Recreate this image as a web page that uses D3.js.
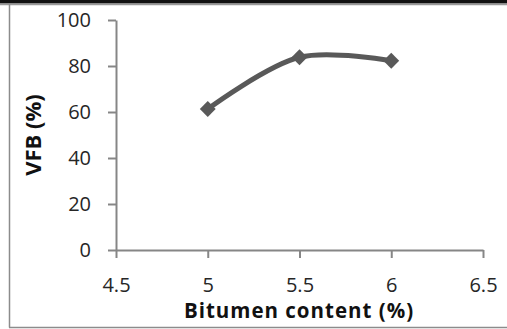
<!DOCTYPE html>
<html>
<head>
<meta charset="utf-8">
<script src="https://cdn.jsdelivr.net/npm/d3@7"></script>
<style>
  html, body { margin: 0; padding: 0; background: #fff; }
  svg { display: block; }
</style>
</head>
<body>
<svg id="chart" width="507" height="329"></svg>
<script>
// Bitumen content (%) vs VFB (%)
const bitumen = [5, 5.5, 6];
const vfb = [61.3, 83.8, 82.3];
const xTicks = [4.5, 5, 5.5, 6, 6.5];
const yTicks = [0, 20, 40, 60, 80, 100];

const svg = d3.select("#chart");
const W = 507, H = 329;
const font = "'Open Sans', 'Liberation Sans', sans-serif";

// frame: dark band at top, thin grey border
svg.append("rect").attr("x", 0).attr("y", 0).attr("width", W).attr("height", 3.5).attr("fill", "#111");
svg.append("line").attr("x1", 0).attr("x2", W).attr("y1", 4.5).attr("y2", 4.5).attr("stroke", "#999").attr("stroke-width", 1.5);
svg.append("line").attr("x1", 9.5).attr("x2", 9.5).attr("y1", 4).attr("y2", 327.5).attr("stroke", "#8c8c8c").attr("stroke-width", 1.5);
svg.append("line").attr("x1", 9).attr("x2", W).attr("y1", 327.5).attr("y2", 327.5).attr("stroke", "#8c8c8c").attr("stroke-width", 1.5);

const x = d3.scaleLinear().domain([4.5, 6.5]).range([116, 483]);
const y = d3.scaleLinear().domain([0, 100]).range([250, 20]);

const axisColor = "#868686";
const labelColor = "#262626";

const xAxis = svg.append("g")
  .attr("transform", `translate(0,${y(0)})`)
  .call(d3.axisBottom(x).tickValues(xTicks).tickFormat(d3.format("")).tickSize(8).tickSizeOuter(0).tickPadding(12));
const yAxis = svg.append("g")
  .attr("transform", `translate(${x(4.5)},0)`)
  .call(d3.axisLeft(y).tickValues(yTicks).tickSize(8).tickSizeOuter(0).tickPadding(17));

[xAxis, yAxis].forEach(g => {
  g.select(".domain").attr("stroke", axisColor).attr("stroke-width", 2);
  g.selectAll(".tick line").attr("stroke", axisColor).attr("stroke-width", 2);
  g.selectAll(".tick text").attr("fill", labelColor).style("font-family", font).style("font-size", "20px");
});
// x tick labels sit on a fixed baseline below the axis
xAxis.selectAll(".tick text").attr("dy", null).attr("y", 42);

// axis titles
svg.append("text")
  .attr("x", 299).attr("y", 318)
  .attr("text-anchor", "middle")
  .style("font-family", font).style("font-size", "20.5px").style("font-weight", "bold")
  .style("letter-spacing", "1px")
  .attr("fill", "#111")
  .text("Bitumen content (%)");
svg.append("text")
  .attr("transform", `translate(41,135) rotate(-90)`)
  .attr("text-anchor", "middle")
  .style("font-family", font).style("font-size", "22px").style("font-weight", "bold")
  .attr("fill", "#111")
  .text("VFB (%)");

// smoothed series line
const pts = bitumen.map((b, i) => [b, vfb[i]]);
const line = d3.line().x(d => x(d[0])).y(d => y(d[1])).curve(d3.curveCatmullRom.alpha(0.5));
svg.append("path")
  .datum(pts)
  .attr("d", line)
  .attr("fill", "none")
  .attr("stroke", "#595959")
  .attr("stroke-width", 5)
  .attr("stroke-linecap", "round");

// diamond markers
svg.selectAll(".marker")
  .data(pts)
  .enter().append("path")
  .attr("class", "marker")
  .attr("transform", d => `translate(${x(d[0])},${y(d[1])})`)
  .attr("d", d3.symbol().type(d3.symbolDiamond2).size(160))
  .attr("fill", "#595959");
</script>
</body>
</html>
